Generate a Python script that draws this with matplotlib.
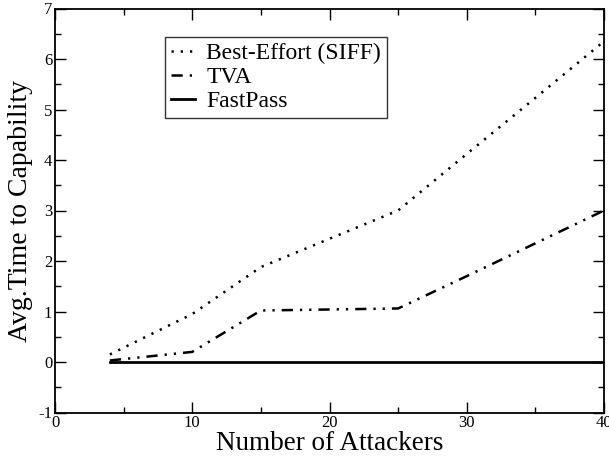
import matplotlib
matplotlib.use("Agg")
import matplotlib.pyplot as plt
from matplotlib.ticker import MultipleLocator

plt.rcParams['font.family'] = ['Liberation Serif', 'DejaVu Serif']
plt.rcParams['axes.unicode_minus'] = False

be_x = [4, 10, 15, 20, 25, 30, 35, 40]
be_y = [0.15, 0.95, 1.88, 2.44, 3.0, 4.12, 5.23, 6.35]
tva_x = [4, 10, 15, 20, 25, 30, 35, 40]
tva_y = [0.03, 0.2, 1.02, 1.04, 1.06, 1.7, 2.35, 3.0]
fp_x = [4, 10, 15, 20, 25, 30, 35, 40]
fp_y = [0, 0, 0, 0, 0, 0, 0, 0]
labels = ["Best-Effort (SIFF)", "TVA", "FastPass"]

fig = plt.figure(figsize=(6.09, 4.58), dpi=100)
ax = fig.add_axes([55/609, 1-412.5/458, (604-55)/609, (412.5-8.5)/458])

ax.plot(be_x, be_y, color='black', lw=1.8, linestyle=(0, (0.9, 2.8)), label=labels[0])
ax.plot(tva_x, tva_y, color='black', lw=1.8, linestyle=(0, (4.5, 2.8, 0.9, 2.8, 0.9, 2.8)), label=labels[1])
ax.plot(fp_x, fp_y, color='black', lw=2.0, linestyle='-', label=labels[2])

ax.set_xlim(0, 40)
ax.set_ylim(-1, 7)
ax.xaxis.set_major_locator(MultipleLocator(10))
ax.xaxis.set_minor_locator(MultipleLocator(5))
ax.yaxis.set_major_locator(MultipleLocator(1))
ax.yaxis.set_minor_locator(MultipleLocator(0.5))
ax.tick_params(which='both', direction='in', top=True, right=True, labelsize=12, pad=2)
ax.tick_params(which='major', length=8, width=1)
ax.tick_params(which='minor', length=4, width=1)
for s in ax.spines.values():
    s.set_linewidth(1.3)

ax.set_xlabel("Number of Attackers", fontsize=19.5, labelpad=0)
ax.set_ylabel("Avg.Time to Capability", fontsize=20, labelpad=4)

leg = ax.legend(loc='upper left', bbox_to_anchor=(0.2, 0.93), fontsize=17, frameon=True,
                fancybox=False, edgecolor='black', handlelength=1.05, handletextpad=0.45,
                borderpad=0.25, labelspacing=0.1, borderaxespad=0)
leg.get_frame().set_linewidth(1.0)

fig.savefig("out.png", dpi=100)
